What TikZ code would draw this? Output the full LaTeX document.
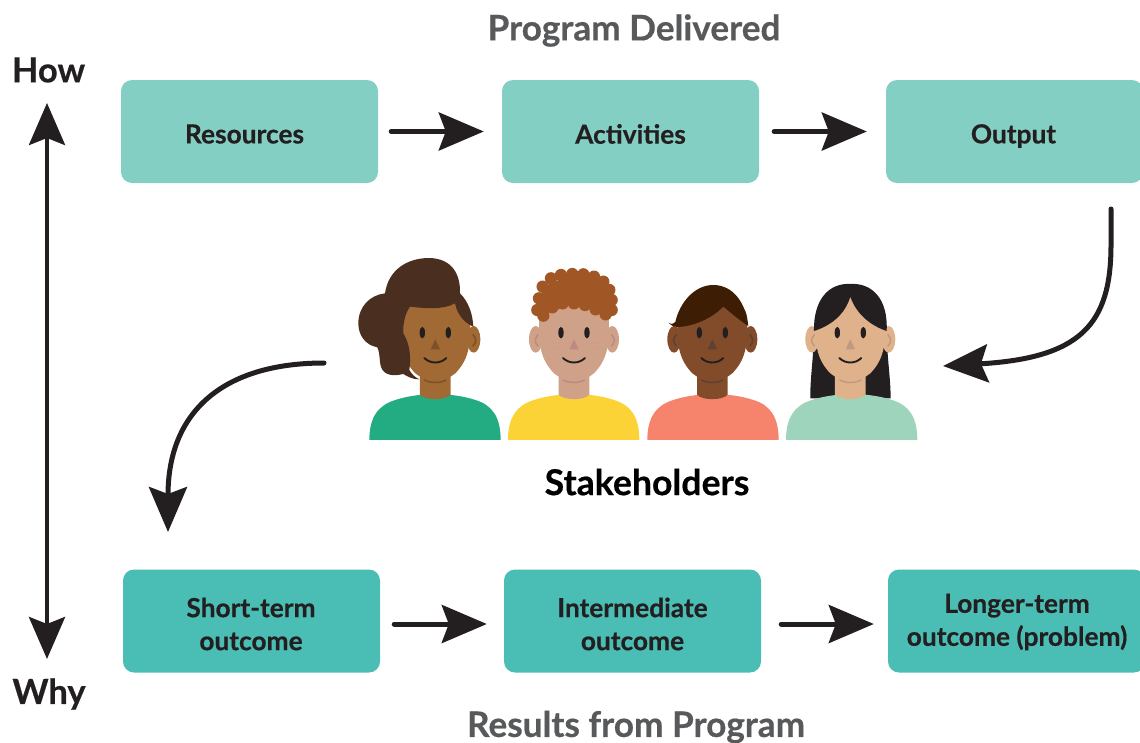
\documentclass[tikz,border=0pt]{standalone}
\usepackage{fontspec}
\setmainfont{Lato}[BoldFeatures={FakeBold=0.5}]
\usetikzlibrary{arrows.meta,calc}
\definecolor{boxlight}{HTML}{83CFC3}
\definecolor{boxdark}{HTML}{4ABDB5}
\definecolor{ink}{HTML}{231F20}
\definecolor{greytext}{HTML}{58595B}
\definecolor{shirtA}{HTML}{23AB82}
\definecolor{shirtB}{HTML}{FBD337}
\definecolor{shirtC}{HTML}{F6836C}
\definecolor{shirtD}{HTML}{9FD4BC}
\definecolor{skinA}{HTML}{A16A34}
\definecolor{skinB}{HTML}{CFA189}
\definecolor{skinC}{HTML}{824B2A}
\definecolor{skinD}{HTML}{DFB28C}
\definecolor{lineA}{HTML}{7D5028}
\definecolor{lineB}{HTML}{BC8A80}
\definecolor{lineC}{HTML}{5E4034}
\definecolor{lineD}{HTML}{C09A80}
\definecolor{hairA}{HTML}{4A2E20}
\definecolor{hairB}{HTML}{A15725}
\definecolor{hairC}{HTML}{3D1D03}
\tikzset{
  flowbox/.style={rounded corners=11pt,minimum width=257pt,minimum height=103pt,inner sep=0pt},
  lightbox/.style={flowbox,fill=boxlight},
  darkbox/.style={flowbox,fill=boxdark},
  boxtext/.style={inner sep=0pt,align=center,text=ink,font=\bfseries\fontsize{26.3}{33}\selectfont},
  flowarrow/.style={ink,line width=5pt,line cap=round,-{Stealth[length=45pt,width=38pt,inset=7pt]}},
  twoway/.style={ink,line width=4.4pt,{Stealth[length=42pt,width=36pt,inset=7pt]}-{Stealth[length=42pt,width=36pt,inset=7pt]}},
  sidelabel/.style={font=\bfseries\fontsize{34.5}{38}\selectfont,text=ink,inner sep=0pt},
  titlelabel/.style={font=\bfseries\fontsize{35.2}{38}\selectfont,text=greytext,inner sep=0pt},
  facelines/.style={line width=1.5pt,line cap=round},
  mouth/.style={ink,line width=1.9pt,line cap=round},
  zoomA/.style={shift={(350,250)},x=0.3333pt,y=-0.3333pt},
  zoomB/.style={shift={(640,250)},x=0.3333pt,y=-0.3333pt}
}
% #1 centre x in zoom units, #2 skin, #3 line colour, #4 shirt, #5 shirt offset
\newcommand{\bodyshape}[5]{
  \begin{scope}[xshift=#1*0.3333pt]
    \begin{scope}[xshift=#5*0.3333pt]
    \fill[#4] (-198,570) .. controls (-198,500) and (-170,465) .. (-120,450) .. controls (-85,438) and (-40,433) .. (0,431) .. controls (40,433) and (85,438) .. (120,450) .. controls (170,465) and (196,500) .. (196,570) -- cycle;
    \end{scope}
    \fill[#2] (-46,370) -- (-46,434) .. controls (-30,452) and (30,452) .. (46,434) -- (46,370) -- cycle;
    \draw[#3,facelines] (-32,390) .. controls (-15,400) and (15,400) .. (32,390);
  \end{scope}
}
\newcommand{\headshape}[3]{
  \begin{scope}[xshift=#1*0.3333pt]
    \fill[#2] (-115,268) ellipse[x radius=20,y radius=40];
    \fill[#2] (115,268) ellipse[x radius=20,y radius=40];
    \fill[#2] (-104,200) .. controls (-108,290) and (-98,330) .. (-60,370) .. controls (-30,397) and (30,397) .. (60,370) .. controls (98,330) and (108,290) .. (104,200) .. controls (96,120) and (-96,120) .. (-104,200) -- cycle;
    \fill[ink] (-39,248) ellipse[x radius=8,y radius=17.5];
    \fill[ink] (39,248) ellipse[x radius=8,y radius=17.5];
    \fill[#3] (0,268) -- (14,298) -- (-14,298) -- cycle;
    \draw[mouth] (-33,324) .. controls (-15,342) and (15,342) .. (33,324);
    \draw[#3,facelines] (-108,254) .. controls (-119,268) and (-119,275) .. (-108,288);
    \draw[#3,facelines] (113,254) .. controls (124,268) and (124,275) .. (113,288);
  \end{scope}
}
\begin{document}
\begin{tikzpicture}[x=1pt,y=-1pt]
\useasboundingbox (0,0) rectangle (1140,742);

% Boxes
\node[lightbox] (resources) at (249.5,131.5) {};
\node[lightbox] (activities) at (630.5,131.5) {};
\begin{scope}
\clip (0,0) rectangle (1140,742);
\node[lightbox] (output) at (1014.5,131.5) {};
\node[darkbox] (longterm) at (1016.5,621) {};
\end{scope}
\node[darkbox] (shortterm) at (251.5,621) {};
\node[darkbox] (intermediate) at (632.5,621) {};
\node[boxtext] (resourcestext) at (244.5,134) {Resources};
\node[boxtext] (activitiestext) at (630.5,134) {Activities};
\node[boxtext] (outputtext) at (1013.5,136) {Output};
\node[boxtext] (shorttext) at (251,624) {Short-term\\outcome};
\node[boxtext] (intertext) at (632.5,624) {Intermediate\\outcome};
\node[boxtext] (longlabel) at (1017,622) {Longer-term\\outcome (problem)};

% Labels
\node[titlelabel] (delivered) at (634,30.5) {Program Delivered};
\node[titlelabel] (results) at (636,727) {Results from Program};
\node[sidelabel] (how) at (48.5,70) {How};
\node[sidelabel] (why) at (49,694) {Why};
\node[sidelabel,font=\bfseries\fontsize{35.6}{38}\selectfont,text=black] (stakeholders) at (647,482) {Stakeholders};

% Straight connectors
\draw[flowarrow,shorten <=13pt,shorten >=18pt] (resources) -- (activities);
\draw[flowarrow,shorten <=15pt,shorten >=19pt] (activities) -- (output);
\draw[flowarrow,shorten <=14pt,shorten >=17pt] ($(shortterm.east)+(0,3)$) -- ($(intermediate.west)+(0,3)$);
\draw[flowarrow,shorten <=20pt,shorten >=14pt] ($(intermediate.east)+(0,3)$) -- ($(longterm.west)+(0,3)$);
\coordinate (howend) at (47,103);
\coordinate (whyend) at (47,659);
\draw[twoway] (howend) -- (whyend);

% Curved connectors
\coordinate (outStart) at (1111,209);
\coordinate (stakeIn) at (943,366);
\coordinate (stakeOut) at (324,363);
\coordinate (shortIn) at (168,532);
\draw[flowarrow] (outStart) -- (1111,245) .. controls (1111,325) and (1080,358) .. (stakeIn);
\draw[flowarrow] (stakeOut) .. controls (225,363) and (168,410) .. (shortIn);

% People, left pair
\begin{scope}[zoomA]
  % person 1
  \bodyshape{256}{skinA}{lineA}{shirtA}{0}
  \headshape{256}{skinA}{lineA}
  \fill[hairA] (105,130) .. controls (115,60) and (170,25) .. (235,24) .. controls (295,24) and (332,60) .. (330,130) .. controls (355,155) and (368,190) .. (370,230) .. controls (345,220) and (322,195) .. (315,160) .. controls (280,180) and (225,175) .. (180,170) .. controls (165,190) and (158,225) .. (160,250) .. controls (175,275) and (185,310) .. (178,360) .. controls (185,372) and (195,382) .. (208,388) .. controls (185,388) and (170,378) .. (160,372) .. controls (120,382) and (92,372) .. (90,335) .. controls (88,318) and (88,305) .. (82,292) .. controls (45,285) and (25,255) .. (25,220) .. controls (25,170) and (60,135) .. (105,130) -- cycle;
  % person 2
  \bodyshape{672}{skinB}{lineB}{shirtB}{0}
  \headshape{672}{skinB}{lineB}
  \fill[hairB] (562,180) -- (580,110) -- (667,72) -- (760,95) -- (785,150) -- (765,195) -- (672,160) -- (578,195) -- cycle;
  \foreach \cx/\cy in {562/180,567/145,578/110,603/85,633/75,667/72,700/73,732/80,760/95,778/120,785/150,785/180,767/193,737/178,705/165,672/160,638/160,607/172,580/197}
    \fill[hairB] (\cx,\cy) circle[radius=18.5];
  \foreach \cx/\cy in {602/280,611/280,620/280,629/280,611/292,620/292,632/292,715/280,724/280,733/280,745/280,721/292,732/292,742/292}
    \fill[lineB] (\cx,\cy) circle[radius=1.2];
\end{scope}

% People, right pair
\begin{scope}[zoomB]
  % person 3
  \bodyshape{217}{skinC}{lineC}{shirtC}{3}
  \headshape{217}{skinC}{lineC}
  \fill[hairC] (85,218) .. controls (95,224) and (100,222) .. (106,216) .. controls (120,155) and (165,105) .. (220,105) .. controls (280,105) and (318,160) .. (325,228) .. controls (300,212) and (275,190) .. (250,170) .. controls (215,205) and (160,230) .. (112,231) .. controls (100,230) and (92,226) .. (85,218) -- cycle;
  % person 4
  \fill[ink] (522,230) .. controls (522,320) and (510,380) .. (511,445) -- (590,445) -- (590,300) -- (675,300) -- (675,445) -- (752,445) .. controls (752,380) and (740,320) .. (740,230) -- cycle;
  \bodyshape{631}{skinD}{lineD}{shirtD}{5}
  \headshape{631}{skinD}{lineD}
  \fill[ink] (631,102) .. controls (570,98) and (520,145) .. (522,243) .. controls (570,228) and (615,195) .. (631,140) .. controls (650,195) and (695,228) .. (740,243) .. controls (745,145) and (695,98) .. (631,102) -- cycle;
\end{scope}
\end{tikzpicture}
\end{document}
